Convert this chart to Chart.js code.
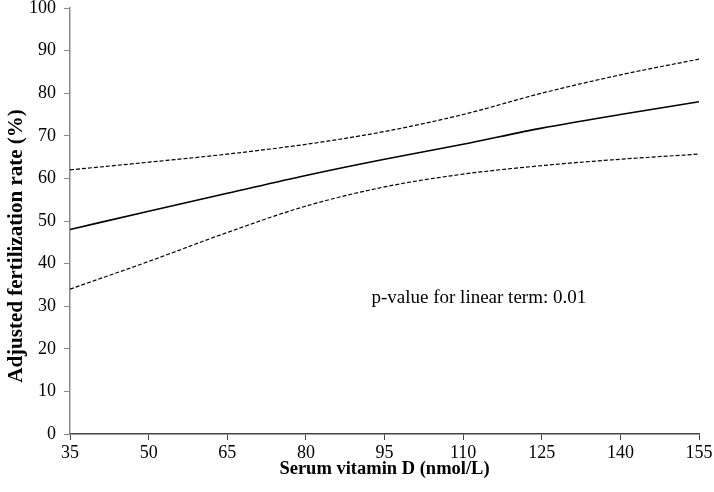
<!DOCTYPE html>
<html>
<head>
<meta charset="utf-8">
<script src="https://cdn.jsdelivr.net/npm/chart.js@4"></script>
<style>
  html, body { margin: 0; padding: 0; background: #fff; }
  #wrap { width: 714px; height: 492px; }
</style>
</head>
<body>
<div id="wrap"><canvas id="chart"></canvas></div>
<script>
const vitD = [35, 50, 65, 80, 95, 110, 125, 140, 155]
const fitted = [48, 52.3, 56.5, 60.7, 64.5, 68, 71.8, 75, 78]
const upperCI = [62, 63.8, 65.7, 68, 71, 75, 80, 84.3, 88]
const lowerCI = [34, 40.5, 47.3, 53.5, 58, 61, 63, 64.5, 65.7]
const xTicks = [35, 50, 65, 80, 95, 110, 125, 140, 155]
const note = { x: 113, y: 32, text: 'p-value for linear term: 0.01' }
const yTitle = 'Adjusted fertilization rate (%)'

const serif = "'Liberation Serif', 'Times New Roman', serif"
const pts = arr => vitD.map((x, i) => ({ x: x, y: arr[i] }))

const line = (data, dashed, width) => ({
    data: data,
    borderColor: '#000',
    borderWidth: width,
    borderDash: dashed ? [4, 2] : [],
    pointRadius: 0,
    cubicInterpolationMode: 'monotone',
    fill: false
})

// note text inside the plot and the y title (centred on the whole canvas height)
const textPlugin = {
    id: 'texts',
    afterDatasetsDraw(chart) {
        const ctx = chart.ctx
        ctx.save()
        ctx.fillStyle = '#000'
        ctx.textAlign = 'center'
        ctx.textBaseline = 'middle'
        ctx.font = '19px ' + serif
        ctx.fillText(note.text, chart.scales.x.getPixelForValue(note.x), chart.scales.y.getPixelForValue(note.y))
        ctx.translate(17, chart.height / 2)
        ctx.rotate(-Math.PI / 2)
        ctx.font = 'bold 21px ' + serif
        ctx.fillText(yTitle, 0, 0)
        ctx.restore()
    }
}

new Chart(document.querySelector('#chart'), {
    type: 'line',
    data: {
        datasets: [
            line(pts(upperCI), true, 1.2),
            line(pts(fitted), false, 1.6),
            line(pts(lowerCI), true, 1.2)
        ]
    },
    options: {
        responsive: true,
        maintainAspectRatio: false,
        animation: false,
        layout: { padding: { top: 8, right: 15, left: 0, bottom: 0 } },
        plugins: { legend: { display: false }, tooltip: { enabled: false } },
        scales: {
            x: {
                type: 'linear',
                min: 35,
                max: 155,
                afterBuildTicks: axis => { axis.ticks = xTicks.map(v => ({ value: v })) },
                afterFit: axis => { axis.height = 58; axis.paddingRight = 0; axis.paddingLeft = 0 },
                grid: { drawOnChartArea: false, drawTicks: true, tickLength: 6, tickColor: '#444' },
                border: { color: '#444', width: 1.5 },
                ticks: { color: '#000', font: { family: serif, size: 18 }, padding: 2, maxRotation: 0 },
                title: { display: true, text: 'Serum vitamin D (nmol/L)', color: '#000', font: { family: serif, size: 18.5, weight: 'bold' }, padding: { top: 0, bottom: 12 } }
            },
            y: {
                min: 0,
                max: 100,
                afterFit: axis => { axis.width = 70; axis.paddingTop = 0; axis.paddingBottom = 0 },
                ticks: { stepSize: 10, color: '#000', font: { family: serif, size: 18 }, padding: 8 },
                grid: { drawOnChartArea: false, drawTicks: true, tickLength: 6, tickColor: '#888' },
                border: { color: '#888', width: 1.5 }
            }
        }
    },
    plugins: [textPlugin]
})
</script>
</body>
</html>
